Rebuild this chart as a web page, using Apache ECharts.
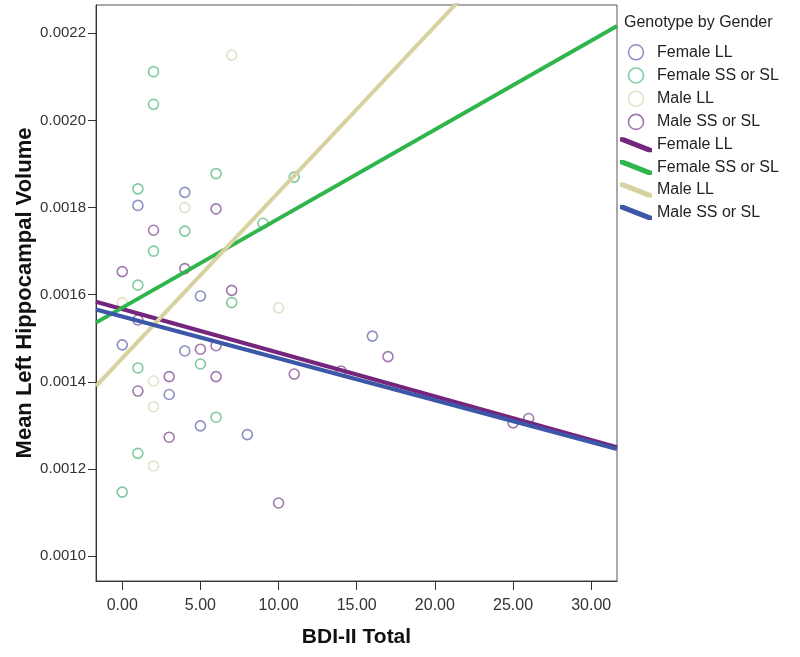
<!DOCTYPE html>
<html><head><meta charset="utf-8">
<script src="https://cdn.jsdelivr.net/npm/echarts@6/dist/echarts.min.js"></script>
<style>html,body{margin:0;padding:0;background:#fff}#c{width:800px;height:657px}</style>
</head><body><div id="c"></div>
<script>
// ---- data ----
const xTicks = [0, 5, 10, 15, 20, 25, 30];
const yTicks = [0.0010, 0.0012, 0.0014, 0.0016, 0.0018, 0.0020, 0.0022];
const xRange = [-1.68, 31.65];
const yRange = [0.000943, 0.002265];

const groupNames = ['Female LL', 'Female SS or SL', 'Male LL', 'Male SS or SL'];

const femaleLLX = [4, 1, 5, 0, 4, 3, 5, 8, 16];
const femaleLLY = [0.001835, 0.001805, 0.001597, 0.001485, 0.001471, 0.001371, 0.001299, 0.001279, 0.001505];

const femaleSSX = [2, 2, 6, 11, 1, 9, 4, 2, 1, 7, 5, 1, 6, 1, 0];
const femaleSSY = [0.002112, 0.002037, 0.001878, 0.00187, 0.001843, 0.001764, 0.001746, 0.0017, 0.001622, 0.001582, 0.001441, 0.001432, 0.001319, 0.001236, 0.001147];

const maleLLX = [7, 4, 0, 10, 2, 2, 2];
const maleLLY = [0.00215, 0.0018, 0.001582, 0.00157, 0.001402, 0.001343, 0.001207];

const maleSSX = [6, 2, 0, 4, 7, 1, 5, 6, 11, 3, 6, 1, 3, 10, 14, 17, 25, 26];
const maleSSY = [0.001797, 0.001748, 0.001653, 0.00166, 0.00161, 0.001542, 0.001475, 0.001483, 0.001418, 0.001412, 0.001412, 0.001379, 0.001273, 0.001122, 0.001425, 0.001458, 0.001306, 0.001316];

// fit lines: values at xRange ends
const fitFemaleLL = [0.001584, 0.00125];
const fitFemaleSS = [0.001536, 0.002217];
const fitMaleLL = [0.00139, 0.00266];
const fitMaleSS = [0.001566, 0.001246];

// ---- styles ----
const FONT = "'Liberation Sans', Arial, sans-serif";
const markerColors = ['#6f76b3', '#62bd86', '#ddd9b9', '#8a5699'];
const lineColors = ['#74267c', '#2fb54b', '#d8d1a0', '#3d57a8'];
const lineIcon = 'path://M0,0 L4,0 L32,11 L32,15 L28,15 L0,4 Z';

function pairs(xs, ys) { return xs.map((x, i) => [x, ys[i]]); }

const scatterSets = [[femaleLLX, femaleLLY], [femaleSSX, femaleSSY], [maleLLX, maleLLY], [maleSSX, maleSSY]];
const fitSets = [fitFemaleLL, fitFemaleSS, fitMaleLL, fitMaleSS];

const series = [];
scatterSets.forEach((s, i) => {
  series.push({
    name: groupNames[i], type: 'scatter', data: pairs(s[0], s[1]),
    symbol: 'circle', symbolSize: 10,
    itemStyle: { color: 'rgba(255,255,255,0)', borderColor: markerColors[i], borderWidth: 1.6 },
    z: 2
  });
});
fitSets.forEach((f, i) => {
  series.push({
    name: groupNames[i] + ' ', type: 'line', data: pairs(xRange, f),
    showSymbol: false, symbol: 'none', clip: true,
    lineStyle: { color: lineColors[i], width: 4 },
    itemStyle: { color: lineColors[i] },
    z: 3
  });
});

const legendData = [];
groupNames.forEach((n, i) => legendData.push({
  name: n, icon: 'circle',
  itemStyle: { color: 'rgba(255,255,255,0)', borderColor: markerColors[i], borderWidth: 1.6 }
}));
groupNames.forEach((n, i) => legendData.push({
  name: n + ' ', icon: lineIcon,
  itemStyle: { color: lineColors[i], borderWidth: 0 }
}));

const chart = echarts.init(document.getElementById('c'), null, { renderer: 'canvas' });
chart.setOption({
  animation: false,
  backgroundColor: '#fff',
  textStyle: { fontFamily: FONT },
  title: {
    text: 'Genotype by Gender', left: 624, top: 15, padding: 0,
    textStyle: { fontFamily: FONT, fontSize: 16, fontWeight: 'normal', color: '#222' }
  },
  legend: {
    orient: 'vertical', left: 620, top: 44, padding: 0,
    itemWidth: 32, itemHeight: 15, itemGap: 6.6,
    selectedMode: false,
    textStyle: { fontFamily: FONT, fontSize: 16, color: '#222', lineHeight: 16 },
    data: legendData
  },
  grid: {
    left: 96, right: 183, top: 5, bottom: 76,
    show: true, borderColor: '#555', borderWidth: 1, backgroundColor: '#fff'
  },
  xAxis: {
    type: 'value', min: xRange[0], max: xRange[1],
    name: 'BDI-II Total', nameLocation: 'middle', nameGap: 46,
    nameTextStyle: { fontFamily: FONT, fontSize: 21, fontWeight: 'bold', color: '#111' },
    axisLine: { show: true, onZero: false, lineStyle: { color: '#333', width: 1 } },
    axisTick: { show: true, inside: false, length: 9, customValues: xTicks, lineStyle: { color: '#333' } },
    axisLabel: { customValues: xTicks, margin: 17, fontSize: 16, color: '#333', fontFamily: FONT,
      formatter: v => v.toFixed(2) },
    splitLine: { show: false }
  },
  yAxis: {
    type: 'value', min: yRange[0], max: yRange[1],
    name: 'Mean Left Hippocampal Volume', nameLocation: 'middle', nameGap: 60, nameRotate: 90,
    nameMoveOverlap: false,
    nameTextStyle: { fontFamily: FONT, fontSize: 22, fontWeight: 'bold', color: '#111' },
    axisLine: { show: true, onZero: false, lineStyle: { color: '#333', width: 1 } },
    axisTick: { show: true, inside: false, length: 8, customValues: yTicks, lineStyle: { color: '#333' } },
    axisLabel: { customValues: yTicks, margin: 10, fontSize: 15, color: '#333', fontFamily: FONT,
      formatter: v => v.toFixed(4) },
    splitLine: { show: false }
  },
  series: series
});
</script>
</body></html>
